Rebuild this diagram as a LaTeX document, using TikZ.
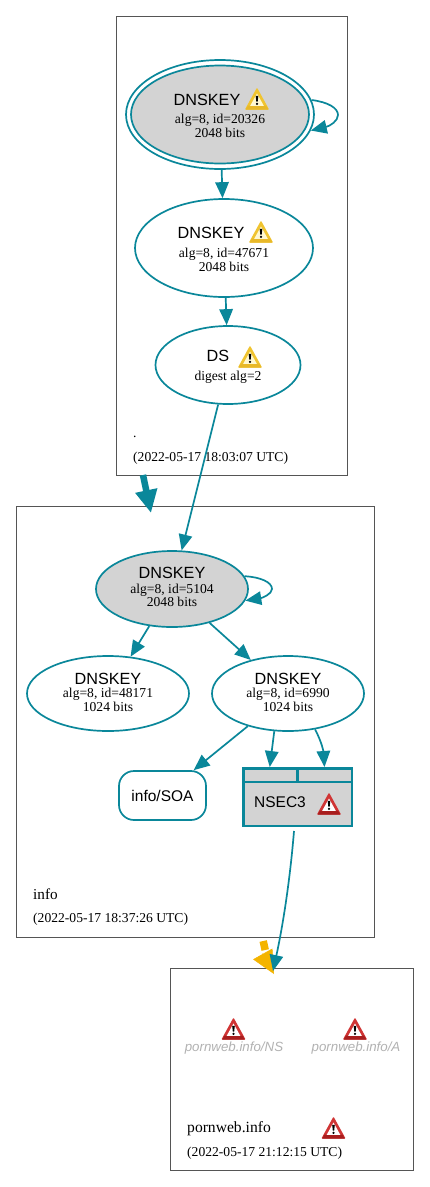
\documentclass[tikz,border=0pt]{standalone}
\usepackage{fontspec}
\setmainfont{Liberation Serif}
\setsansfont{Liberation Sans}
\usetikzlibrary{arrows.meta,shapes.geometric}
\definecolor{teal}{HTML}{0A879A}
\definecolor{zonegray}{HTML}{555555}
\definecolor{keygray}{HTML}{D3D3D3}
\definecolor{amber}{HTML}{F4B400}
\newcommand{\bigT}{\fontsize{16.2}{18}\sffamily\selectfont}
\newcommand{\midT}{\fontsize{15.5}{18}\sffamily\selectfont}
\newcommand{\smallT}{\fontsize{13.6}{14.5}\rmfamily\selectfont}
% #4 first gap, #5 second gap, #6 top strut, #7 bottom strut
\newcommand{\keytext}[7]{{\bigT\rule{0pt}{#6}#1}\\[#4]{\smallT #2}\\[#5]{\smallT #3\rule[-#7]{0pt}{1pt}}}
\newcommand{\warnicon}[5]{%
  \begin{scope}[shift={(#1,#2)}]
    \fill[#3,line join=round,draw=#3,line width=1.4pt] (0,-10) -- (11,10) -- (-11,10) -- cycle;
    \fill[#5,line join=round] (-9,6.5) -- (9,6.5) -- (11.2,10.5) -- (-11.2,10.5) -- cycle;
    \fill[#4] (0,-5.5) -- (6.8,6.8) -- (-6.8,6.8) -- cycle;
    \fill[black] (-1.3,-3.2) -- (1.3,-3.2) -- (.7,2.6) -- (-.7,2.6) -- cycle;
    \fill[black] (0,4.8) circle (1.25);
  \end{scope}}
\definecolor{warnY}{HTML}{F0C430}
\definecolor{warnYi}{HTML}{FFF8D0}
\definecolor{warnYd}{HTML}{E8B828}
\definecolor{warnR}{HTML}{D03535}
\definecolor{warnRd}{HTML}{A81E1E}
\newcommand{\yellowicon}[2]{\warnicon{#1}{#2}{warnY}{warnYi}{warnYd}}
\newcommand{\redicon}[2]{\warnicon{#1}{#2}{warnR}{white}{warnRd}}
\tikzset{
  zone/.style={draw=zonegray,line width=.9pt,fill=white,rectangle,inner sep=0pt,anchor=north west},
  key/.style={ellipse,draw=teal,line width=1.7pt,fill=white,inner sep=0pt,align=center,text=black},
  sep/.style={fill=keygray},
  conn/.style={draw=teal,line width=1.7pt,-{Triangle[length=16pt,width=13.5pt]}},
  zonetext/.style={anchor=west,inner sep=0pt,font=\smallT},
  ghost/.style={inner sep=0pt,text=black!30,font=\fontsize{13.3}{14}\sffamily\itshape\selectfont},
  cell/.style={draw=teal,line width=2pt,fill=keygray,inner sep=0pt,rectangle,anchor=north west}
}
\begin{document}
\begin{tikzpicture}[x=1pt,y=-1pt]
\useasboundingbox (0,0) rectangle (429,1187);
\fill[white] (0,0) rectangle (429,1187);
% zones
\node[zone,minimum width=231.5pt,minimum height=459pt] (zroot) at (115.8,16) {};
\node[zone,minimum width=358pt,minimum height=431pt] (zinfo) at (15.8,506) {};
\node[zone,minimum width=242.5pt,minimum height=202pt] (zporn) at (170.3,968) {};
% root
\node[key,minimum width=188pt,minimum height=109pt] (ksk0) at (220,114.5) {};
\node[key,sep,minimum width=178pt,minimum height=98pt] (ksk) at (220,114.5) {\keytext{DNSKEY\kern26pt}{alg=8, id=20326}{2048 bits}{6.5pt}{1pt}{14pt}{0pt}};
\node[key,minimum width=178pt,minimum height=98pt] (zsk) at (224,248) {\keytext{DNSKEY\kern26pt}{alg=8, id=47671}{2048 bits}{6.5pt}{1pt}{14pt}{0pt}};
\node[key,minimum width=145pt,minimum height=78pt] (ds) at (228,365) {{\bigT\rule{0pt}{14pt}DS\kern20pt}\\[7pt]{\smallT digest alg=2}};
\yellowicon{257}{99}
\yellowicon{261}{232}
\yellowicon{250}{357}
\node[zonetext] (rootname) at (133,436.5) {.};
\node[zonetext] (roottime) at (133,458.5) {(2022-05-17 18:03:07 UTC)};
% info
\node[key,sep,minimum width=152pt,minimum height=76pt] (ikey) at (172,589) {\keytext{DNSKEY}{alg=8, id=5104}{2048 bits}{3pt}{0pt}{1pt}{4pt}};
\node[key,minimum width=162pt,minimum height=75pt] (ia) at (108,693.5) {\keytext{DNSKEY}{alg=8, id=48171}{1024 bits}{1pt}{1pt}{1pt}{2pt}};
\node[key,minimum width=152pt,minimum height=75pt] (ib) at (288,693.5) {\keytext{DNSKEY}{alg=8, id=6990}{1024 bits}{1pt}{1pt}{1pt}{2pt}};
\node[draw=teal,line width=1.7pt,rounded corners=15pt,minimum width=87pt,minimum height=49pt,inner sep=0pt,font=\midT] (soa) at (162.5,795.5) {info/SOA};
\node[cell,minimum width=53.5pt,minimum height=14pt] (cella) at (242,767) {};
\node[cell,minimum width=54pt,minimum height=14pt] (cellb) at (296.5,767) {};
\node[cell,minimum width=108.5pt,minimum height=44pt] (nsec) at (242,781) {};
\node[cell,fill=none,line width=2.8pt,minimum width=108.5pt,minimum height=57.5pt] (nsecbox) at (242,767) {};
\node[inner sep=0pt,font=\midT] (nseclabel) at (280,802) {NSEC3};
\redicon{329}{804}
\node[zonetext] (infoname) at (33,894.5) {\fontsize{15.2}{16}\selectfont info};
\node[zonetext] (infotime) at (33,919.5) {(2022-05-17 18:37:26 UTC)};
% pornweb
\redicon{233.5}{1029}
\redicon{355}{1029}
\node[ghost] (pns) at (234,1048) {pornweb.info/NS};
\node[ghost] (pa) at (356,1048) {pornweb.info/A};
\node[zonetext] (pname) at (187,1128.5) {\fontsize{15.6}{16}\selectfont pornweb.info};
\redicon{333.5}{1128}
\node[zonetext] (ptime) at (187,1153.5) {(2022-05-17 21:12:15 UTC)};
% connectors
\draw[conn] (ksk0) -- (zsk);
\draw[conn] (zsk) -- (ds);
\draw[conn] (ds) -- (ikey);
\draw[conn] (ikey) -- (ia);
\draw[conn] (ikey) -- (ib);
\draw[conn] (ib) -- (soa);
\draw[conn] (ib.250) -- (cella.north);
\draw[conn] (ib.-53) to[out=-62,in=94] (cellb.north);
\draw[conn] (ksk0.9) .. controls (328,102) and (338,108) .. (338,115) .. controls (338,121) and (330,126) .. (ksk0.-10);
\draw[conn] (ikey.10) .. controls (260,577) and (272,582) .. (272,589) .. controls (272,594) and (262,598) .. (ikey.-9);
% between zones
\coordinate (thickA) at (143,475);
\coordinate (thickB) at (151,513);
\draw[draw=teal,line width=6.5pt,-{Triangle[length=23pt,width=21pt]}] (thickA) -- (thickB);
\coordinate (nsA) at (294,831);
\coordinate (nsB) at (273,971);
\coordinate (warnA) at (263.2,941);
\coordinate (warnB) at (265.2,950);
\coordinate (warnC) at (262.5,953.5);
\coordinate (warnD) at (274,974);
\draw[draw=amber,line width=7.5pt] (warnA) -- (warnB);
\draw[draw=amber,line width=.5pt,-{Triangle[length=23pt,width=22pt]}] (warnC) -- (warnD);
\draw[conn] (nsA) .. controls (290,880) and (283,925) .. (nsB);
\end{tikzpicture}
\end{document}
